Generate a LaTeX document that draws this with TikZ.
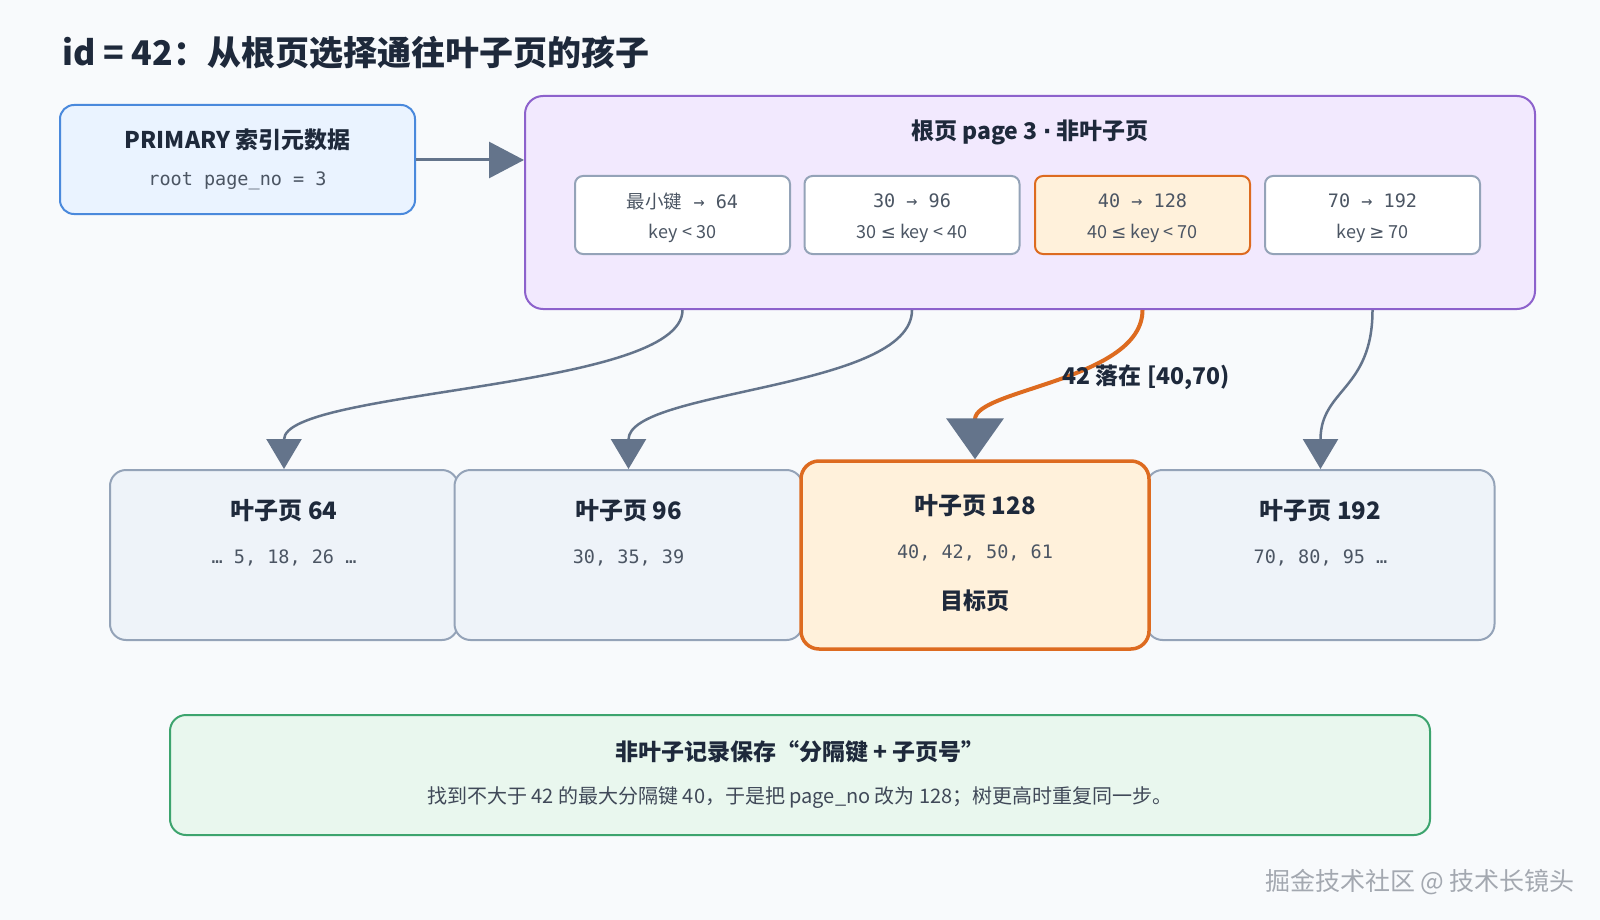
\documentclass[tikz,border=0pt]{standalone}
\usepackage{fontspec}
\setmainfont{Noto Sans CJK SC}
\setmonofont{DejaVu Sans Mono}
\newfontfamily\symfont{DejaVu Sans}
\usetikzlibrary{arrows.meta}

\definecolor{bgc}{HTML}{F8FAFC}
\definecolor{ink}{HTML}{1E293B}
\definecolor{subc}{HTML}{4B5563}
\definecolor{primfill}{HTML}{EAF3FF}
\definecolor{primline}{HTML}{4A89DC}
\definecolor{rootfill}{HTML}{F2E9FE}
\definecolor{rootline}{HTML}{8D62CC}
\definecolor{cellline}{HTML}{94A3B8}
\definecolor{hotfill}{HTML}{FFF1DB}
\definecolor{hotline}{HTML}{DD6B20}
\definecolor{leaffill}{HTML}{EEF3F9}
\definecolor{notefill}{HTML}{E9F7EE}
\definecolor{noteline}{HTML}{3DA46E}
\definecolor{arrowc}{HTML}{64748B}
\definecolor{markc}{HTML}{A3A8B0}

\begin{document}
\begin{tikzpicture}[x=1pt,y=-1pt,
    every node/.style={inner sep=0pt},
    frame/.style={draw, line width=2pt},
    cellbox/.style={frame, draw=cellline, fill=white, rounded corners=8pt,
        minimum width=215pt, minimum height=78pt},
    leafbox/.style={frame, draw=cellline, fill=leaffill, rounded corners=16pt,
        minimum width=348pt, minimum height=170pt},
    head/.style={text=ink, font=\fontsize{23}{28}\selectfont\bfseries},
    code/.style={text=subc, font=\fontsize{18.5}{22}\selectfont\ttfamily},
    plain/.style={text=subc, font=\fontsize{18}{22}\selectfont},
    link/.style={arrowc, line width=2.5pt, -{Triangle[width=35pt,length=30pt]}},
]
    \fill[bgc] (0,0) rectangle (1600,920);
    \useasboundingbox (0,0) rectangle (1600,920);

    \node[anchor=west, text=ink, font=\fontsize{34}{40}\selectfont\bfseries] (title) at (62,53)
        {id = 42：从根页选择通往叶子页的孩子};

    % index metadata
    \node[frame, draw=primline, fill=primfill, rounded corners=14pt,
        minimum width=355pt, minimum height=109pt] (prim) at (237.5,159.5) {};
    \node[head] (primt) at (237.5,140) {PRIMARY 索引元数据};
    \node[code] (primc) at (237.5,181) {root page\_no = 3};

    % root page
    \node[frame, draw=rootline, fill=rootfill, rounded corners=18pt,
        minimum width=1010pt, minimum height=213pt] (root) at (1030,202.5) {};
    \node[head] (roott) at (1030,132) {根页 page 3 {\symfont ·} 非叶子页};

    \node[cellbox] (c1) at (682.5,215) {};
    \node[cellbox] (c2) at (912,215) {};
    \node[cellbox, draw=hotline, fill=hotfill] (c3) at (1142.5,215) {};
    \node[cellbox] (c4) at (1372.5,215) {};

    \node[code] (c1a) at (682.5,201) {{\rmfamily 最小键} → 64};
    \node[plain] (c1b) at (682.5,233) {key < 30};
    \node[code] (c2a) at (912,201) {30 → 96};
    \node[plain] (c2b) at (912,233) {30 {\symfont ≤} key < 40};
    \node[code] (c3a) at (1142.5,201) {40 → 128};
    \node[plain] (c3b) at (1142.5,233) {40 {\symfont ≤} key < 70};
    \node[code] (c4a) at (1372.5,201) {70 → 192};
    \node[plain] (c4b) at (1372.5,233) {key {\symfont ≥} 70};

    \draw[arrowc, line width=3pt, -{Triangle[width=36pt,length=35pt]}] (prim.east |- 0,160) -- (root.west |- 0,160);

    % leaf pages
    \node[leafbox] (l1) at (284,555) {};
    \node[leafbox] (l2) at (628.5,555) {};
    \node[leafbox] (l4) at (1320.5,555) {};
    \node[frame, line width=3.5pt, draw=hotline, fill=hotfill, rounded corners=18pt,
        minimum width=348pt, minimum height=188pt] (l3) at (975,555) {};

    \node[head, font=\fontsize{24}{28}\selectfont\bfseries] (l1t) at (284,511) {叶子页 64};
    \node[code] (l1v) at (284,558) {… 5, 18, 26 …};
    \node[head, font=\fontsize{24}{28}\selectfont\bfseries] (l2t) at (628.5,511) {叶子页 96};
    \node[code] (l2v) at (628.5,558) {30, 35, 39};
    \node[head, font=\fontsize{24}{28}\selectfont\bfseries] (l3t) at (975,506) {叶子页 128};
    \node[code] (l3v) at (975,553) {40, 42, 50, 61};
    \node[head] (l3m) at (975,601) {目标页};
    \node[head, font=\fontsize{24}{28}\selectfont\bfseries] (l4t) at (1320.5,511) {叶子页 192};
    \node[code] (l4v) at (1320.5,558) {70, 80, 95 …};

    % child pointers
    \foreach \i in {1,2,4}
        \draw[link] (c\i.south |- root.south) .. controls +(0,80) and +(0,-80) .. (l\i.north);
    \draw[hotline, line width=4pt, -{Triangle[width=57pt,length=41pt,color=arrowc]}]
        (c3.south |- root.south) .. controls +(0,70) and +(0,-70) .. (l3.north);
    \node[head] (hit) at (1146,377) {42 落在 [40,70)};

    % note
    \node[frame, draw=noteline, fill=notefill, rounded corners=16pt,
        minimum width=1260pt, minimum height=120pt] (note) at (800,775) {};
    \node[head] (notet) at (800,752) {非叶子记录保存“分隔键 + 子页号”};
    \node[plain, text=ink!85!white, font=\fontsize{20}{24}\selectfont] (notec) at (800,798)
        {找到不大于 42 的最大分隔键 40，于是把 page\_no 改为 128；树更高时重复同一步。};

    \node[text=markc, font=\fontsize{25}{30}\selectfont] (mark) at (1420,882) {掘金技术社区 @ 技术长镜头};
\end{tikzpicture}
\end{document}
